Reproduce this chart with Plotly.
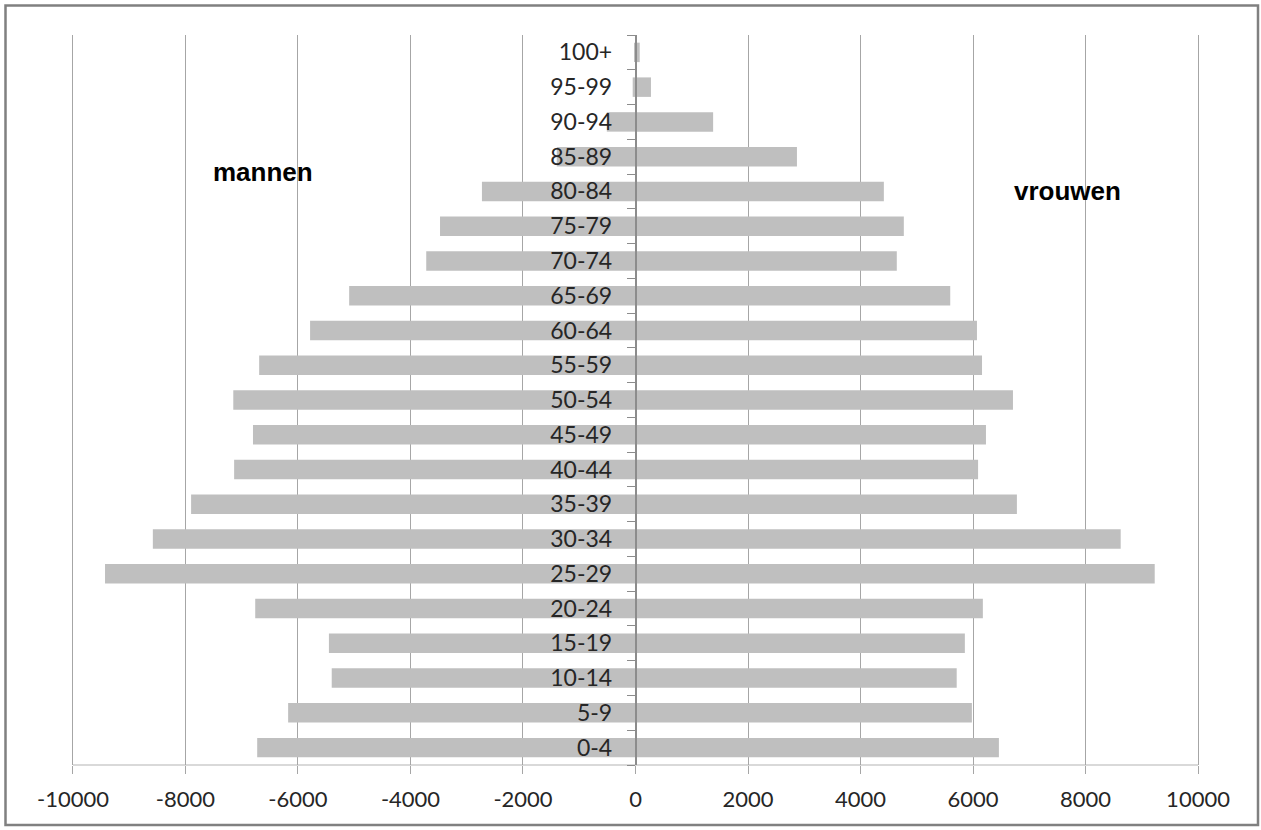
import plotly.graph_objects as go

age_groups = ["0-4", "5-9", "10-14", "15-19", "20-24", "25-29", "30-34", "35-39",
              "40-44", "45-49", "50-54", "55-59", "60-64", "65-69", "70-74",
              "75-79", "80-84", "85-89", "90-94", "95-99", "100+"]
mannen = [-6725, -6175, -5400, -5450, -6760, -9430, -8580, -7900,
          -7135, -6800, -7150, -6690, -5785, -5090, -3720,
          -3475, -2730, -1400, -510, -50, -10]
vrouwen = [6460, 5980, 5710, 5855, 6175, 9230, 8625, 6780,
           6090, 6230, 6710, 6160, 6070, 5595, 4645,
           4770, 4415, 2870, 1380, 275, 75]
x_ticks = [-10000, -8000, -6000, -4000, -2000, 0, 2000, 4000, 6000, 8000, 10000]

bar_color = "#BFBFBF"
W, H = 1261, 830
L, R, T, B = 71, 61, 35, 65
pw, ph = W - L - R, H - T - B

fig = go.Figure()
fig.add_trace(go.Bar(y=age_groups, x=mannen, orientation="h", marker_color=bar_color,
                     marker_line_width=0, name="mannen"))
fig.add_trace(go.Bar(y=age_groups, x=vrouwen, orientation="h", marker_color=bar_color,
                     marker_line_width=0, name="vrouwen"))

x_font = dict(family="Lato", size=22, color="#262626")
y_font = dict(family="Lato", size=23, color="#262626")

fig.update_layout(
    width=W, height=H,
    margin=dict(l=L, r=R, t=T, b=B, pad=0),
    barmode="relative",
    bargap=0.44,
    showlegend=False,
    plot_bgcolor="white",
    paper_bgcolor="white",
    xaxis=dict(
        range=[-10035, 10035],
        tickvals=x_ticks,
        ticktext=[str(v) for v in x_ticks],
        showgrid=True, gridcolor="#A6A6A6", gridwidth=1,
        zeroline=False,
        showline=False,
        ticks="outside", ticklen=8, tickcolor="#A6A6A6", tickwidth=1,
        tickfont=x_font,
        ticklabelstandoff=7,
        fixedrange=True,
    ),
    yaxis=dict(
        type="category",
        categoryorder="array", categoryarray=age_groups,
        anchor="free", position=0.5,
        showgrid=False, zeroline=False,
        showline=True, linecolor="#8C8C8C", linewidth=1.5,
        ticks="outside", tickson="boundaries", ticklen=8,
        tickcolor="#8C8C8C", tickwidth=1,
        tickfont=y_font,
        ticklabelstandoff=18,
        fixedrange=True,
    ),
)

# bottom axis line spanning -10000..10000
fig.add_shape(type="line", xref="x", yref="paper", x0=x_ticks[0], x1=x_ticks[-1], y0=0, y1=0,
              line=dict(color="#D9D9D9", width=2), layer="below")

fig.add_annotation(text="<b>mannen</b>", x=-6620, y=0.812, xref="x", yref="paper",
                   showarrow=False, font=dict(family="Liberation Sans", size=26, color="black"),
                   xanchor="center", yanchor="middle")
fig.add_annotation(text="<b>vrouwen</b>", x=7685, y=0.786, xref="x", yref="paper",
                   showarrow=False, font=dict(family="Liberation Sans", size=26, color="black"),
                   xanchor="center", yanchor="middle")

# outer frame around the chart
fig.add_shape(type="rect", xref="paper", yref="paper",
              x0=(5.5 - L) / pw, x1=(1258 - L) / pw,
              y0=(H - B - 825) / ph, y1=(H - B - 5.5) / ph,
              line=dict(color="#808080", width=2.5), fillcolor="rgba(0,0,0,0)", layer="below")

fig.write_html("out.html", config={"displayModeBar": False},
               post_script="document.body.style.margin='0';document.body.style.overflow='hidden';")
